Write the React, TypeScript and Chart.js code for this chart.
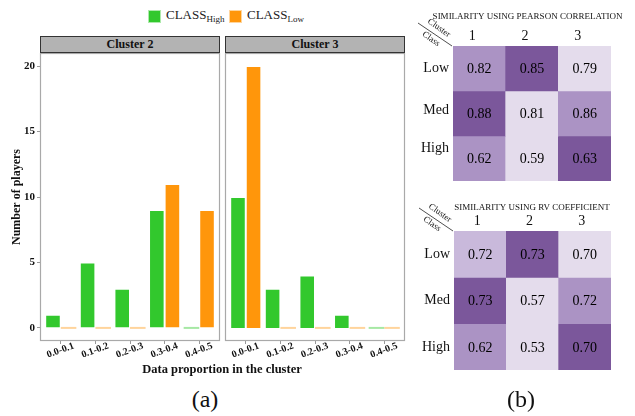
import React, { useEffect, useRef } from 'react';
import { Chart, registerables } from 'chart.js';

Chart.register(...registerables);

// ---------- data ----------
const binLabels = ['0.0-0.1', '0.1-0.2', '0.2-0.3', '0.3-0.4', '0.4-0.5'];
const cluster2High = [1, 5, 3, 9, 0];
const cluster2Low = [0, 0, 0, 11, 9];
const cluster3High = [10, 3, 4, 1, 0];
const cluster3Low = [20, 0, 0, 0, 0];
const yTickValues = [0, 5, 10, 15, 20];

const clusterLabels = ['1', '2', '3'];
const classLabels = ['Low', 'Med', 'High'];
const pearsonValues = [
  [0.82, 0.85, 0.79],
  [0.88, 0.81, 0.86],
  [0.62, 0.59, 0.63],
];
const rvValues = [
  [0.72, 0.73, 0.7],
  [0.73, 0.57, 0.72],
  [0.62, 0.53, 0.7],
];

// ---------- styles ----------
const GREEN = '#32c82d';
const ORANGE = '#ff960b';
const GREEN_ZERO = '#a6e8a4';
const ORANGE_ZERO = '#ffd49c';
const DARK = '#7b579b';
const MID = '#ab93c4';
const MIDL = '#c9b9db';
const LIGHT = '#e4dcec';
const pearsonColors = [
  [MID, DARK, LIGHT],
  [DARK, LIGHT, MID],
  [MID, LIGHT, DARK],
];
const rvColors = [
  [MIDL, DARK, LIGHT],
  [DARK, LIGHT, MID],
  [MID, LIGHT, DARK],
];
const SERIF = '"Liberation Serif", "Times New Roman", serif';

const panelBorder = {
  id: 'panelBorder',
  afterDraw(chart: any) {
    const { ctx, chartArea: a } = chart;
    ctx.save();
    ctx.strokeStyle = '#a9a9a9';
    ctx.lineWidth = 1.2;
    ctx.strokeRect(a.left + 0.5, a.top + 0.5, a.width - 1, a.height - 1);
    ctx.restore();
  },
};

function barConfig(high: number[], low: number[], showY: boolean): any {
  const mk = (vals: number[], col: string, zero: string) => ({
    data: vals.map((v, i) => ({ x: i + 1, y: v })),
    backgroundColor: vals.map((v) => (v === 0 ? zero : col)),
    borderColor: 'rgba(255,255,255,0.45)',
    borderWidth: vals.map((v) => (v === 0 ? 0 : 1)),
    minBarLength: 2,
    categoryPercentage: 0.9,
    barPercentage: 1,
  });
  return {
    type: 'bar',
    data: {
      datasets: [
        { label: 'High', ...mk(high, GREEN, GREEN_ZERO) },
        { label: 'Low', ...mk(low, ORANGE, ORANGE_ZERO) },
      ],
    },
    options: {
      responsive: false,
      animation: false,
      devicePixelRatio: 1,
      layout: { padding: { left: showY ? 0 : 3, right: 3, top: 0, bottom: 0 } },
      plugins: { legend: { display: false }, tooltip: { enabled: false }, title: { display: false } },
      scales: {
        x: {
          type: 'linear',
          min: 0.4,
          max: 5.6,
          offset: false,
          afterBuildTicks: (s: any) => {
            s.ticks = binLabels.map((_, i) => ({ value: i + 1 }));
          },
          afterFit: (s: any) => {
            s.height = 22;
            s.paddingLeft = 0;
            s.paddingRight = 0;
          },
          grid: { display: true, drawOnChartArea: false, drawTicks: true, tickLength: 3, color: '#999', offset: false },
          border: { display: false },
          ticks: {
            autoSkip: false,
            minRotation: 20,
            maxRotation: 20,
            labelOffset: 13,
            padding: -4,
            color: '#111',
            font: { family: SERIF, size: 10, weight: 'bold' },
            callback: (v: any) => binLabels[Math.round(v) - 1] ?? '',
          },
        },
        y: {
          type: 'linear',
          min: -1,
          max: 21,
          display: showY,
          afterBuildTicks: (s: any) => {
            s.ticks = yTickValues.map((v) => ({ value: v }));
          },
          afterFit: (s: any) => {
            if (showY) s.width = 40;
            s.paddingTop = 0;
            s.paddingBottom = 0;
          },
          grid: { display: true, drawOnChartArea: false, drawTicks: true, tickLength: 3, color: '#999' },
          border: { display: false },
          ticks: { padding: 2, color: '#111', font: { family: SERIF, size: 11, weight: 'bold' } },
          title: {
            display: showY,
            text: 'Number of players',
            color: '#111',
            padding: { top: 10, bottom: 0 },
            font: { family: SERIF, size: 12, weight: 'bold' },
          },
        },
      },
    },
    plugins: [panelBorder],
  };
}

function heatConfig(values: number[][], colors: string[][], title: string, g: any): any {
  const cellText = {
    id: 'cellText',
    afterDatasetsDraw(chart: any) {
      const ctx = chart.ctx;
      ctx.save();
      ctx.font = `14px ${SERIF}`;
      ctx.fillStyle = '#000';
      ctx.textAlign = 'center';
      ctx.textBaseline = 'middle';
      values.forEach((row, r) => {
        const meta = chart.getDatasetMeta(r);
        row.forEach((v, c) => {
          const el: any = meta.data[c];
          ctx.fillText(v.toFixed(2), el.x, (el.y + el.base) / 2 + 1);
        });
      });
      ctx.restore();
    },
  };
  const corner = {
    id: 'corner',
    afterDraw(chart: any) {
      const { ctx, chartArea: a } = chart;
      const ang = (35 * Math.PI) / 180;
      ctx.save();
      ctx.strokeStyle = '#222';
      ctx.lineWidth = 0.8;
      ctx.beginPath();
      ctx.moveTo(a.left - 35, a.top - 23);
      ctx.lineTo(a.left - 1, a.top);
      ctx.stroke();
      ctx.restore();
      const txt = (t: string, dx: number, dy: number) => {
        ctx.save();
        ctx.fillStyle = '#111';
        ctx.font = `9px ${SERIF}`;
        ctx.textAlign = 'center';
        ctx.textBaseline = 'middle';
        ctx.translate(a.left + dx, a.top + dy);
        ctx.rotate(ang);
        ctx.fillText(t, 0, 0);
        ctx.restore();
      };
      txt('Cluster', -14, -18);
      txt('Class', -22, -7);
    },
  };
  return {
    type: 'bar',
    data: {
      labels: clusterLabels,
      datasets: classLabels.map((cl, r) => ({
        label: cl,
        data: values[r].map(() => [r, r + 1]),
        backgroundColor: colors[r],
        borderWidth: 0,
        grouped: false,
        barPercentage: 1,
        categoryPercentage: 1,
      })),
    },
    options: {
      responsive: false,
      animation: false,
      devicePixelRatio: 1,
      layout: { padding: { left: g.padLeft, right: g.padRight, top: 0, bottom: g.padBottom } },
      plugins: {
        legend: { display: false },
        tooltip: { enabled: false },
        title: {
          display: true,
          text: title,
          color: '#111',
          font: { family: SERIF, size: 9, weight: 'normal', lineHeight: 1.2 },
          padding: { top: g.titleTop, bottom: 0 },
        },
      },
      scales: {
        x: {
          type: 'category',
          position: 'top',
          offset: true,
          afterFit: (s: any) => {
            s.height = g.xHeight;
            s.paddingLeft = 0;
            s.paddingRight = 0;
          },
          grid: { display: false, drawTicks: false },
          border: { display: false },
          ticks: { padding: g.xPad, labelOffset: g.xOffset, color: '#111', font: { family: SERIF, size: 14 } },
        },
        y: {
          type: 'linear',
          min: 0,
          max: 3,
          reverse: true,
          afterBuildTicks: (s: any) => {
            s.ticks = g.rowPos.map((v: number) => ({ value: v }));
          },
          afterFit: (s: any) => {
            s.width = g.yWidth;
            s.paddingTop = 0;
            s.paddingBottom = 0;
          },
          grid: { display: false, drawTicks: false },
          border: { display: false },
          ticks: {
            padding: 4,
            color: '#111',
            font: { family: SERIF, size: 14 },
            callback: (_v: any, i: number) => classLabels[i],
          },
        },
        yRight: {
          type: 'linear',
          position: 'right',
          display: true,
          afterFit: (s: any) => {
            s.width = g.rightWidth;
            s.paddingTop = 0;
            s.paddingBottom = 0;
          },
          grid: { display: false, drawTicks: false },
          border: { display: false },
          ticks: { display: false },
        },
      },
    },
    plugins: [cellText, corner],
  };
}

function ChartCanvas({ config, style, w, h }: any) {
  const ref = useRef<HTMLCanvasElement>(null);
  useEffect(() => {
    const c = new Chart(ref.current as HTMLCanvasElement, config);
    return () => c.destroy();
  }, []);
  return <canvas ref={ref} width={w} height={h} style={{ position: 'absolute', width: w, height: h, ...style }} />;
}

export default function App() {
  const strip = (left: number, text: string) => (
    <div
      style={{
        position: 'absolute',
        left,
        top: 36,
        width: 180,
        height: 17,
        boxSizing: 'border-box',
        background: '#b3b3b3',
        border: '1.4px solid #333',
        textAlign: 'center',
        font: `bold 12px ${SERIF}`,
        lineHeight: '15px',
        color: '#111',
      }}
    >
      {text}
    </div>
  );
  const legendBox = (left: number, color: string) => (
    <div style={{ position: 'absolute', left, top: 10, width: 13, height: 13, background: color, border: '0.5px solid rgba(255,255,255,0.6)', boxSizing: 'border-box' }} />
  );
  const legendText = (left: number, sub: string) => (
    <div style={{ position: 'absolute', left, top: 7, font: `13px ${SERIF}`, color: '#222', whiteSpace: 'nowrap' }}>
      CLASS<span style={{ fontSize: 9, position: 'relative', top: 3 }}>{sub}</span>
    </div>
  );
  return (
    <div style={{ position: 'fixed', left: 0, top: 0, width: 635, height: 416, background: '#fff', overflow: 'hidden' }}>
      {legendBox(148, GREEN)}
      {legendText(166, 'High')}
      {legendBox(229, ORANGE)}
      {legendText(247, 'Low')}
      {strip(40, 'Cluster 2')}
      {strip(225, 'Cluster 3')}
      <ChartCanvas config={barConfig(cluster2High, cluster2Low, true)} w={223} h={310} style={{ left: 0, top: 53 }} />
      <ChartCanvas config={barConfig(cluster3High, cluster3Low, false)} w={186} h={310} style={{ left: 222, top: 53 }} />
      <div style={{ position: 'absolute', left: 0, width: 444, top: 362, textAlign: 'center', font: `bold 12.5px ${SERIF}`, color: '#111' }}>
        Data proportion in the cluster
      </div>
      <div style={{ position: 'absolute', left: 155, width: 100, top: 386, textAlign: 'center', font: `24px ${SERIF}`, color: '#111' }}>(a)</div>
      <ChartCanvas
        config={heatConfig(pearsonValues, pearsonColors, 'SIMILARITY USING PEARSON CORRELATION', {
          padLeft: 5,
          padRight: 5,
          padBottom: 11,
          titleTop: 11,
          xHeight: 24.2,
          xPad: 1,
          xOffset: -7,
          yWidth: 48,
          rightWidth: 39,
          rowPos: [0.5, 1.42, 2.27],
        })}
        w={255}
        h={192}
        style={{ left: 400, top: 0 }}
      />
      <ChartCanvas
        config={heatConfig(rvValues, rvColors, 'SIMILARITY USING RV COEFFICIENT', {
          padLeft: 6,
          padRight: 2,
          padBottom: 5,
          titleTop: 7.6,
          xHeight: 17.6,
          xPad: 1,
          xOffset: -3,
          yWidth: 48,
          rightWidth: 47,
          rowPos: [0.5, 1.5, 2.5],
        })}
        w={260}
        h={180}
        style={{ left: 400, top: 195 }}
      />
      <div style={{ position: 'absolute', left: 471, width: 100, top: 386, textAlign: 'center', font: `24px ${SERIF}`, color: '#111' }}>(b)</div>
    </div>
  );
}
